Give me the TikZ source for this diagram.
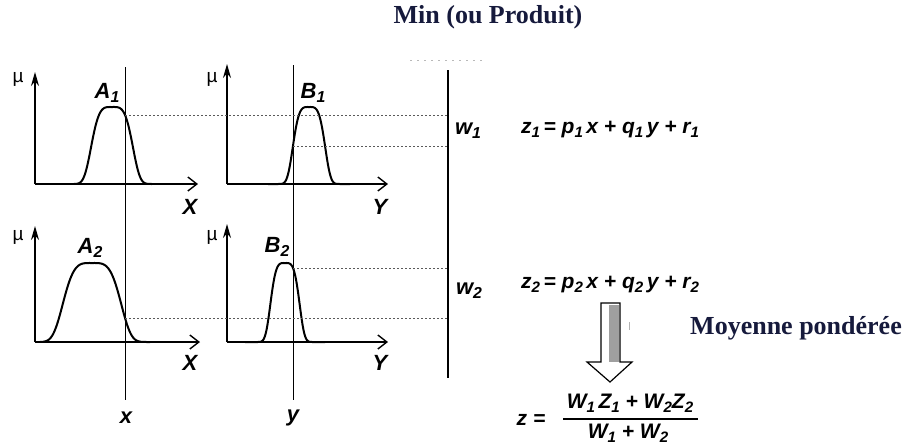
\documentclass[tikz,border=0pt]{standalone}
\usepackage{fontspec}
\usepackage{graphicx}
\setmainfont{Liberation Serif}
\newfontfamily\eqf{Liberation Sans}
\usetikzlibrary{arrows.meta}
\definecolor{navy}{RGB}{22,26,60}
\definecolor{dotc}{RGB}{90,90,90}
\newcommand\dn[1]{\raisebox{-0.35ex}{\scalebox{0.72}{#1}}}
\begin{document}
\begin{tikzpicture}[x=1pt,y=-1pt,
  lbl/.style={font=\eqf\bfseries\itshape\fontsize{22}{24}\selectfont, inner sep=0pt},
  eqn/.style={font=\eqf\bfseries\itshape\fontsize{21}{24}\selectfont, inner sep=0pt},
  mu/.style={font=\eqf\fontsize{19}{20}\selectfont, inner sep=0pt},
  ttl/.style={font=\bfseries\fontsize{26}{28}\selectfont, text=navy, inner sep=0pt},
  axis/.style={line width=1.4pt},
  xax/.style={axis, -{Straight Barb[length=9pt,width=14pt,line width=1.4pt]}},
  yax/.style={axis, -{Stealth[length=14pt,width=8pt]}},
  curve/.style={line width=2pt, line join=round},
  guide/.style={line width=1pt},
  dots/.style={dotc, line width=1pt, dash pattern=on 2.2pt off 1.8pt},
  rline/.style={line width=1.5pt}]
\useasboundingbox (0,0) rectangle (912,445);

% title
\node[ttl] (title) at (488,17) {Min (ou Produit)};
\coordinate (fd1) at (410,60);
\coordinate (fd2) at (485,60);
\draw[gray!55, line width=0.8pt, dash pattern=on 2pt off 5pt] (fd1) -- (fd2);

% ---------- plot A1 ----------
\coordinate (o1) at (35,184);
\coordinate (t1) at (35,72);
\coordinate (e1) at (198,184);
\draw[yax] (o1) -- (t1);
\draw[xax] (o1) -- (e1);
\draw[curve] plot[domain=74:152, samples=90, smooth] (\x, {184-77*exp(-(((\x-112)/22.6)^2)^2)});
\node[mu] (mu1) at (18,79) {µ};
\node[lbl] (A1) at (107,93) {A\dn{1}};
\node[lbl] (X1) at (190,207) {X};

% ---------- plot B1 ----------
\coordinate (o2) at (227,184);
\coordinate (t2) at (227,64);
\coordinate (e2) at (388,184);
\draw[yax] (o2) -- (t2);
\draw[xax] (o2) -- (e2);
\draw[curve] plot[domain=268:350, samples=90, smooth] (\x, {184-77*exp(-(((\x-309)/17.5)^2)^2)});
\node[mu] (mu2) at (212,79) {µ};
\node[lbl] (B1) at (313,93) {B\dn{1}};
\node[lbl] (Y1) at (380,207) {Y};

% ---------- plot A2 ----------
\coordinate (o3) at (35,342);
\coordinate (t3) at (35,226);
\coordinate (e3) at (200,342);
\draw[yax] (o3) -- (t3);
\draw[xax] (o3) -- (e3);
\draw[curve] plot[domain=40:150, samples=110, smooth] (\x, {342-79*exp(-(((\x-92)/31.6)^2)^2)});
\node[mu] (mu3) at (18,237) {µ};
\node[lbl] (A2) at (90,248) {A\dn{2}};
\node[lbl] (X2) at (190,363) {X};

% ---------- plot B2 ----------
\coordinate (o4) at (227,342);
\coordinate (t4) at (227,224);
\coordinate (e4) at (388,342);
\draw[yax] (o4) -- (t4);
\draw[xax] (o4) -- (e4);
\draw[curve] plot[domain=245:325, samples=90, smooth] (\x, {342-79*exp(-(((\x-285)/15.8)^2)^2)});
\node[mu] (mu4) at (212,237) {µ};
\node[lbl] (B2) at (277,247) {B\dn{2}};
\node[lbl] (Y2) at (380,363) {Y};

% ---------- input lines ----------
\node[lbl] (xin) at (126,418) {x};
\node[lbl] (yin) at (293,418) {y};
\coordinate (xtop) at (125,67);
\coordinate (ytop) at (293,65);
\coordinate (xbot) at (125,400);
\coordinate (ybot) at (293,400);
\draw[guide] (xtop) -- (xbot);
\draw[guide] (ytop) -- (ybot);

% ---------- right line ----------
\coordinate (rtop) at (448,70);
\coordinate (rbot) at (448,378);
\draw[rline] (rtop) -- (rbot);

% dotted levels
\coordinate (a1) at (125,115);  \coordinate (ra1) at (448,115);
\coordinate (b1) at (293,146);  \coordinate (rb1) at (448,146);
\coordinate (a2) at (125,318);  \coordinate (ra2) at (448,318);
\coordinate (b2) at (293,268);  \coordinate (rb2) at (448,268);
\draw[dots] (a1) -- (ra1);
\draw[dots] (b1) -- (rb1);
\draw[dots] (a2) -- (ra2);
\draw[dots] (b2) -- (rb2);

% ---------- right side ----------
\node[lbl] (w1) at (468,131) {w\dn{1}};
\node[lbl] (w2) at (469,291) {w\dn{2}};
\node[eqn, anchor=west] (z1) at (521,130) {z\dn{1}\,= p\dn{1}\,x + q\dn{1}\,y + r\dn{1}};
\node[eqn, anchor=west] (z2) at (521,285) {z\dn{2}\,= p\dn{2}\,x + q\dn{2}\,y + r\dn{2}};

% block arrow
\draw[line width=1.2pt, fill=white, line join=miter]
  (601,303) -- (620,303) -- (620,362) -- (632,362) -- (610,382) -- (587,362) -- (601,362) -- cycle;
\fill[gray!75] (609,304.5) rectangle (618.8,362);
\draw[gray!60, line width=0.8pt] (629,322) -- (629,330);

\node[ttl, anchor=west] (moy) at (690,328) {Moyenne pondérée};

% final formula
\node[eqn] (zeq) at (531,420) {z =};
\node[eqn] (num) at (630,403) {W\dn{1}\,Z\dn{1} + W\dn{2}Z\dn{2}};
\node[eqn] (den) at (628,433) {W\dn{1} + W\dn{2}};
\coordinate (bl) at (563,419);
\coordinate (br) at (698,419);
\draw[line width=1.4pt] (bl) -- (br);
\end{tikzpicture}
\end{document}
